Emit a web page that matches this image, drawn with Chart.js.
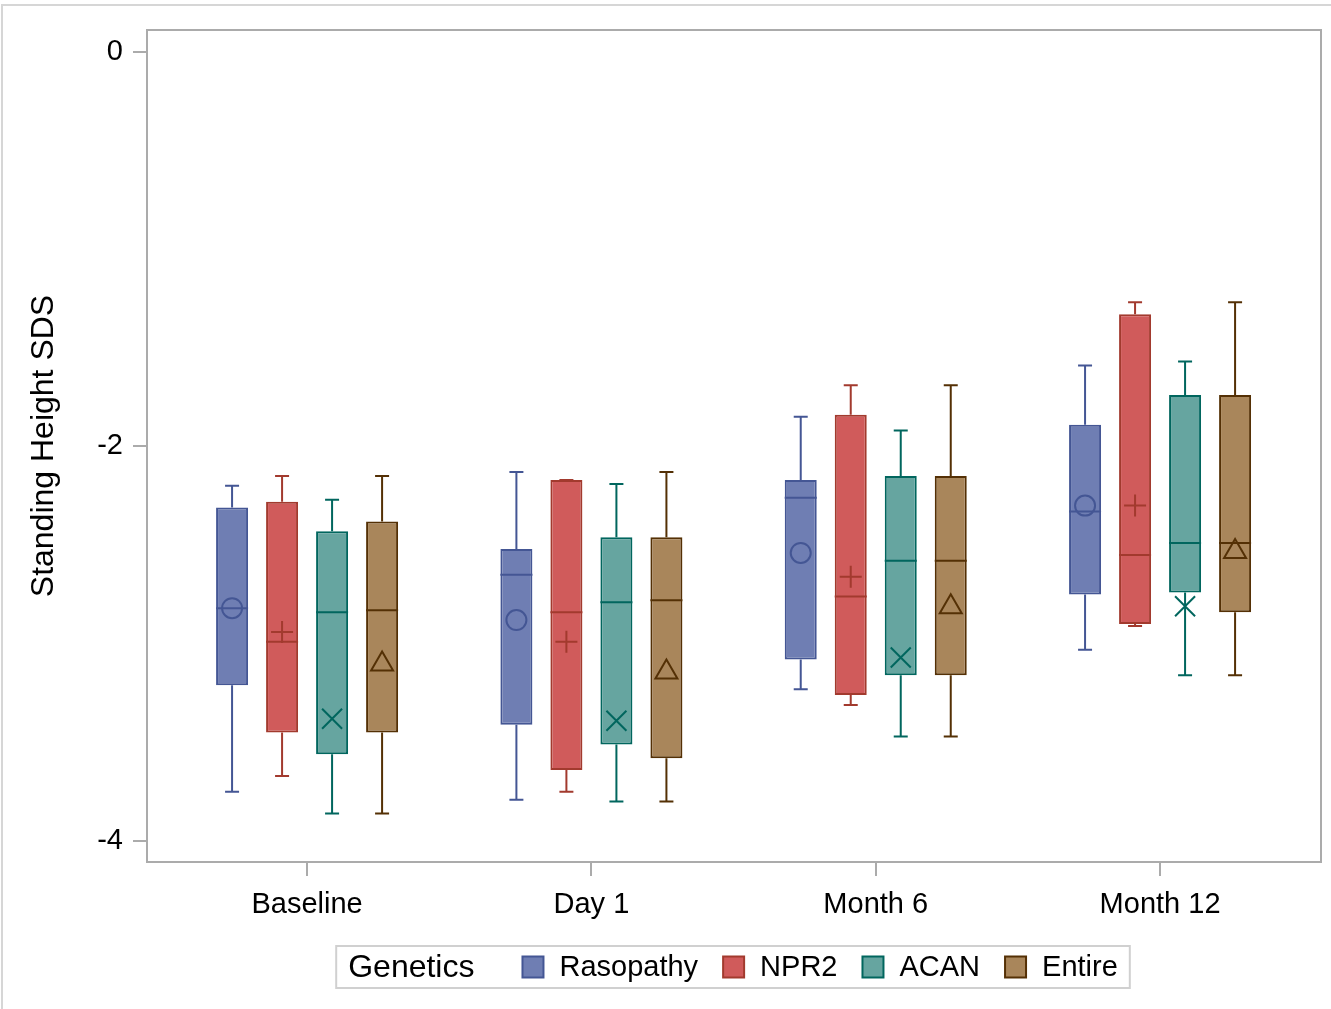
<!DOCTYPE html>
<html>
<head>
<meta charset="utf-8">
<script src="https://cdn.jsdelivr.net/npm/chart.js@4.4.0/dist/chart.umd.min.js"></script>
<style>
  html, body { margin: 0; padding: 0; background: #fff; }
  #wrap { width: 1331px; height: 1009px; position: relative; }
</style>
</head>
<body>
<div id="wrap"><canvas id="grafico" width="1331" height="1009"></canvas></div>
<script>
// categorias del eje x y grupos
const categorias = ['Baseline', 'Day 1', 'Month 6', 'Month 12'];
const posiciones = [0, 1, 2, 3];
const grupos = ['Rasopathy', 'NPR2', 'ACAN', 'Entire'];
const tituloLeyenda = 'Genetics';
const ticksY = [0, -2, -4];

// una fila por grupo, una columna por categoria
const bigoteInf = [
    [-3.75, -3.79, -3.23, -3.03],
    [-3.67, -3.75, -3.31, -2.91],
    [-3.86, -3.80, -3.47, -3.16],
    [-3.86, -3.80, -3.47, -3.16]
];
const cuartil1 = [
    [-3.21, -3.41, -3.08, -2.75],
    [-3.45, -3.64, -3.26, -2.90],
    [-3.56, -3.51, -3.16, -2.74],
    [-3.45, -3.58, -3.16, -2.84]
];
const mediana = [
    [-2.82, -2.65, -2.26, -2.33],
    [-2.99, -2.84, -2.76, -2.55],
    [-2.84, -2.79, -2.58, -2.49],
    [-2.83, -2.78, -2.58, -2.49]
];
const cuartil3 = [
    [-2.31, -2.52, -2.17, -1.89],
    [-2.28, -2.17, -1.84, -1.33],
    [-2.43, -2.46, -2.15, -1.74],
    [-2.38, -2.46, -2.15, -1.74]
];
const bigoteSup = [
    [-2.20, -2.13, -1.85, -1.59],
    [-2.15, -2.17, -1.69, -1.27],
    [-2.27, -2.19, -1.92, -1.57],
    [-2.15, -2.13, -1.69, -1.27]
];
const media = [
    [-2.82, -2.88, -2.54, -2.30],
    [-2.94, -2.99, -2.66, -2.30],
    [-3.38, -3.39, -3.07, -2.81],
    [-3.09, -3.13, -2.80, -2.52]
];

const rellenos = ['#6F7EB3', '#D05B5B', '#66A5A0', '#A9865B'];
const contrastes = ['#445694', '#A23A2E', '#01665E', '#543005'];
const marcadores = ['circle', 'plus', 'x', 'triangle'];

const fuente = '"Liberation Sans", Arial, sans-serif';
const grisEje = '#ababab';

function dibujarMarcador(ctx, tipo, x, y) {
    const r = 10;
    ctx.beginPath();
    if (tipo === 'circle') {
        ctx.arc(x, y, r, 0, Math.PI * 2);
    } else if (tipo === 'plus') {
        ctx.moveTo(x - r - 1, y); ctx.lineTo(x + r + 1, y);
        ctx.moveTo(x, y - r - 1); ctx.lineTo(x, y + r + 1);
    } else if (tipo === 'x') {
        ctx.moveTo(x - r, y - r); ctx.lineTo(x + r, y + r);
        ctx.moveTo(x + r, y - r); ctx.lineTo(x - r, y + r);
    } else {
        ctx.moveTo(x, y - r);
        ctx.lineTo(x + r + 1, y + r - 1);
        ctx.lineTo(x - r - 1, y + r - 1);
        ctx.closePath();
    }
    ctx.stroke();
}

// bigotes, medianas y medias sobre las cajas
const pluginCajas = {
    id: 'cajas',
    beforeDatasetsDraw(chart) {
        const ctx = chart.ctx;
        const y = chart.scales.y;
        ctx.save();
        ctx.lineWidth = 2;
        chart.data.datasets.forEach((ds, d) => {
            const meta = chart.getDatasetMeta(d);
            ctx.strokeStyle = contrastes[d];
            meta.data.forEach((bar, i) => {
                const x = bar.x;
                const yMin = y.getPixelForValue(bigoteInf[d][i]);
                const yMax = y.getPixelForValue(bigoteSup[d][i]);
                const yQ1 = y.getPixelForValue(cuartil1[d][i]);
                const yQ3 = y.getPixelForValue(cuartil3[d][i]);
                ctx.beginPath();
                ctx.moveTo(x, yQ3); ctx.lineTo(x, yMax);
                ctx.moveTo(x - 7, yMax); ctx.lineTo(x + 7, yMax);
                ctx.moveTo(x, yQ1); ctx.lineTo(x, yMin);
                ctx.moveTo(x - 7, yMin); ctx.lineTo(x + 7, yMin);
                ctx.stroke();
            });
        });
        ctx.restore();
    },
    afterDatasetsDraw(chart) {
        const ctx = chart.ctx;
        const y = chart.scales.y;
        ctx.save();
        ctx.lineWidth = 2;
        chart.data.datasets.forEach((ds, d) => {
            const meta = chart.getDatasetMeta(d);
            ctx.strokeStyle = contrastes[d];
            meta.data.forEach((bar, i) => {
                const x = bar.x;
                const w = bar.width / 2;
                const yMed = y.getPixelForValue(mediana[d][i]);
                ctx.beginPath();
                ctx.moveTo(x - w, yMed); ctx.lineTo(x + w, yMed);
                ctx.stroke();
                dibujarMarcador(ctx, marcadores[d], x, y.getPixelForValue(media[d][i]));
            });
        });
        ctx.restore();
    }
};

// marco exterior, marco del area y leyenda
const pluginMarco = {
    id: 'marco',
    beforeDraw(chart) {
        const ctx = chart.ctx;
        ctx.save();
        ctx.fillStyle = '#fff';
        ctx.fillRect(0, 0, chart.width, chart.height);
        ctx.strokeStyle = '#d6d6d6';
        ctx.lineWidth = 2;
        ctx.beginPath();
        ctx.moveTo(2, chart.height); ctx.lineTo(2, 5); ctx.lineTo(chart.width, 5);
        ctx.stroke();
        ctx.restore();
    },
    afterDraw(chart) {
        const ctx = chart.ctx;
        const a = chart.chartArea;
        ctx.save();
        ctx.strokeStyle = grisEje;
        ctx.lineWidth = 2;
        ctx.beginPath();
        ctx.moveTo(a.left, a.top); ctx.lineTo(a.right, a.top); ctx.lineTo(a.right, a.bottom);
        ctx.stroke();

        // leyenda
        ctx.font = '32px ' + fuente;
        const anchoTitulo = ctx.measureText(tituloLeyenda).width;
        ctx.font = '29px ' + fuente;
        const anchos = chart.data.datasets.map(ds => ctx.measureText(ds.label).width);
        const pad = 12, gapTitulo = 48, caja = 21, gapCaja = 16, gapItem = 25;
        let total = pad * 2 + anchoTitulo;
        anchos.forEach((w, k) => { total += (k === 0 ? gapTitulo : gapItem) + caja + gapCaja + w; });
        const cx = 733, cy = 967, alto = 42;
        let x = cx - total / 2;
        ctx.strokeStyle = '#d0d0d0';
        ctx.strokeRect(x, cy - alto / 2, total, alto);
        ctx.fillStyle = '#000';
        ctx.textBaseline = 'middle';
        ctx.textAlign = 'left';
        ctx.font = '32px ' + fuente;
        x += pad;
        ctx.fillText(tituloLeyenda, x, cy + 1);
        x += anchoTitulo;
        ctx.font = '29px ' + fuente;
        chart.data.datasets.forEach((ds, k) => {
            x += k === 0 ? gapTitulo : gapItem;
            ctx.fillStyle = rellenos[k];
            ctx.fillRect(x, cy - caja / 2, caja, caja);
            ctx.strokeStyle = contrastes[k];
            ctx.strokeRect(x, cy - caja / 2, caja, caja);
            x += caja + gapCaja;
            ctx.fillStyle = '#000';
            ctx.fillText(ds.label, x, cy + 1);
            x += anchos[k];
        });
        ctx.restore();
    }
};

function armarDatasets() {
    return grupos.map((g, d) => ({
        label: g,
        data: posiciones.map((p, i) => ({ x: p, y: [cuartil1[d][i], cuartil3[d][i]] })),
        backgroundColor: rellenos[d],
        borderColor: contrastes[d],
        borderWidth: 2,
        borderSkipped: false,
        categoryPercentage: 0.7035,
        barPercentage: 0.64
    }));
}

new Chart(document.getElementById('grafico'), {
    type: 'bar',
    data: { datasets: armarDatasets() },
    options: {
        responsive: false,
        animation: false,
        events: [],
        layout: { padding: { left: 0, right: 10, top: 30, bottom: 0 } },
        plugins: {
            legend: { display: false },
            tooltip: { enabled: false }
        },
        scales: {
            x: {
                type: 'linear',
                offset: false,
                min: -0.563,
                max: 3.566,
                afterFit: s => { s.height = 147; },
                afterBuildTicks: s => { s.ticks = posiciones.map(v => ({ value: v })); },
                ticks: {
                    callback: v => categorias[v],
                    font: { size: 29, family: fuente },
                    color: '#000',
                    padding: 12,
                    maxRotation: 0,
                    autoSkip: false
                },
                grid: { offset: false, drawOnChartArea: false, tickLength: 14, color: grisEje, lineWidth: 2 },
                border: { display: true, color: grisEje, width: 2 }
            },
            y: {
                min: -4.106,
                max: 0.11,
                afterFit: s => { s.width = 147; },
                afterBuildTicks: s => { s.ticks = ticksY.map(v => ({ value: v })); },
                ticks: {
                    font: { size: 29, family: fuente },
                    color: '#000',
                    padding: 10
                },
                grid: { drawOnChartArea: false, tickLength: 14, color: grisEje, lineWidth: 2 },
                border: { display: true, color: grisEje, width: 2 },
                title: {
                    display: true,
                    text: 'Standing Height SDS',
                    font: { size: 32, family: fuente },
                    color: '#000',
                    padding: { top: 25, bottom: 0 }
                }
            }
        }
    },
    plugins: [pluginCajas, pluginMarco]
});
</script>
</body>
</html>
